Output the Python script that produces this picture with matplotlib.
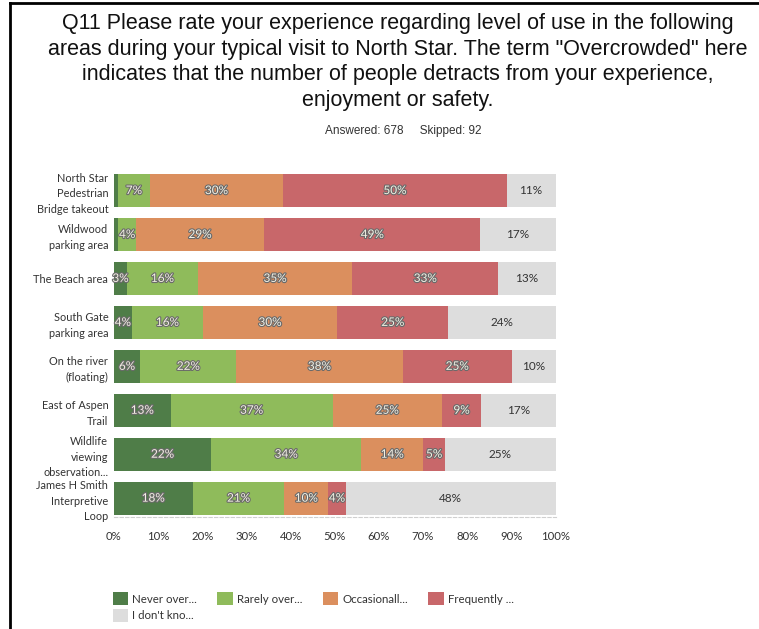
import matplotlib
matplotlib.use('Agg')
import matplotlib.pyplot as plt
import matplotlib.patheffects as pe
from matplotlib.patches import Patch
import numpy as np

# survey data (percent of respondents, as labelled)
categories = ['North Star\nPedestrian\nBridge takeout', 'Wildwood\nparking area',
              'The Beach area', 'South Gate\nparking area', 'On the river\n(floating)',
              'East of Aspen\nTrail', 'Wildlife\nviewing\nobservation...',
              'James H Smith\nInterpretive\nLoop']
never = [1, 1, 3, 4, 6, 13, 22, 18]
rarely = [7, 4, 16, 16, 22, 37, 34, 21]
occasionally = [30, 29, 35, 30, 38, 25, 14, 10]
frequently = [50, 49, 33, 25, 25, 9, 5, 4]
dont_know = [11, 17, 13, 24, 10, 17, 25, 48]

series_names = ['Never over...', 'Rarely over...', 'Occasionall...', 'Frequently ...', 'I don\'t kno...']
colors = ['#4f7d48', '#8fbb5b', '#db8f5e', '#c8676a', '#dddddd']
xticks = [0, 10, 20, 30, 40, 50, 60, 70, 80, 90, 100]

plt.rcParams['font.family'] = ['Lato', 'DejaVu Sans']

fig = plt.figure(figsize=(7.59, 6.29), dpi=100)
ax = fig.add_axes([0.150, 0.178, 0.582, 0.547])

series = np.array([never, rarely, occasionally, frequently, dont_know], dtype=float)
# labels are rounded, so bars are drawn as shares of each row's total
widths = series / series.sum(axis=0) * 100.0
ind = np.arange(len(categories))
left = np.zeros(len(categories))
for k in range(len(series)):
    ax.barh(ind, widths[k], left=left, height=0.75, color=colors[k], edgecolor='none')
    for i in range(len(categories)):
        if series[k][i] < 3:
            continue
        xc = left[i] + widths[k][i] / 2.0
        lab = '%d%%' % series[k][i]
        if k == 4:
            ax.text(xc, i, lab, ha='center', va='center', fontsize=8.5, color='#333333')
        else:
            t = ax.text(xc, i, lab, ha='center', va='center', fontsize=8.5, color='#f4f1e4')
            t.set_path_effects([pe.withStroke(linewidth=1.6, foreground='#6a6a6a')])
    left += widths[k]

ax.set_xlim(0, 100)
ax.set_ylim(7.43, -0.4)
ax.set_yticks(ind)
ax.set_yticklabels(categories, fontsize=7.9, color='#333333', linespacing=1.5)
ax.set_xticks(xticks)
ax.set_xticklabels(['%d%%' % v for v in xticks], fontsize=8.2, color='#333333')
ax.tick_params(axis='y', length=0, pad=4)
ax.tick_params(axis='x', length=0, pad=10)
for s in ['top', 'right', 'left']:
    ax.spines[s].set_visible(False)
ax.spines['bottom'].set_color('#cfcfcf')
ax.spines['bottom'].set_linestyle((0, (3, 2)))
ax.spines['bottom'].set_linewidth(0.8)

fig.text(0.524, 0.979,
         'Q11 Please rate your experience regarding level of use in the following\n'
         'areas during your typical visit to North Star. The term "Overcrowded" here\n'
         'indicates that the number of people detracts from your experience,\n'
         'enjoyment or safety.',
         ha='center', va='top', fontsize=15.5, family='Liberation Sans',
         linespacing=1.28, color='#111111')
fig.text(0.531, 0.792, 'Answered: 678     Skipped: 92', ha='center', va='center',
         fontsize=8.5, family='Liberation Sans', color='#333333')

# legend filled column by column, so reorder to read row by row
order = [0, 4, 1, 2, 3]
handles = [Patch(facecolor=colors[j], edgecolor='none') for j in order]
labels = [series_names[j] for j in order]
fig.legend(handles, labels, loc='upper left', bbox_to_anchor=(0.135, 0.075),
           ncol=4, frameon=False, fontsize=8.3, handlelength=1.35, handleheight=1.35,
           columnspacing=1.75, handletextpad=0.35, labelspacing=0.35,
           labelcolor='#333333')

# frame lines of the scanned page
fig.add_artist(plt.Line2D([0.0135, 0.0135], [0, 0.995], color='black', lw=2))
fig.add_artist(plt.Line2D([0.0135, 1.0], [0.995, 0.995], color='black', lw=2))

fig.savefig('out.png', dpi=100)
